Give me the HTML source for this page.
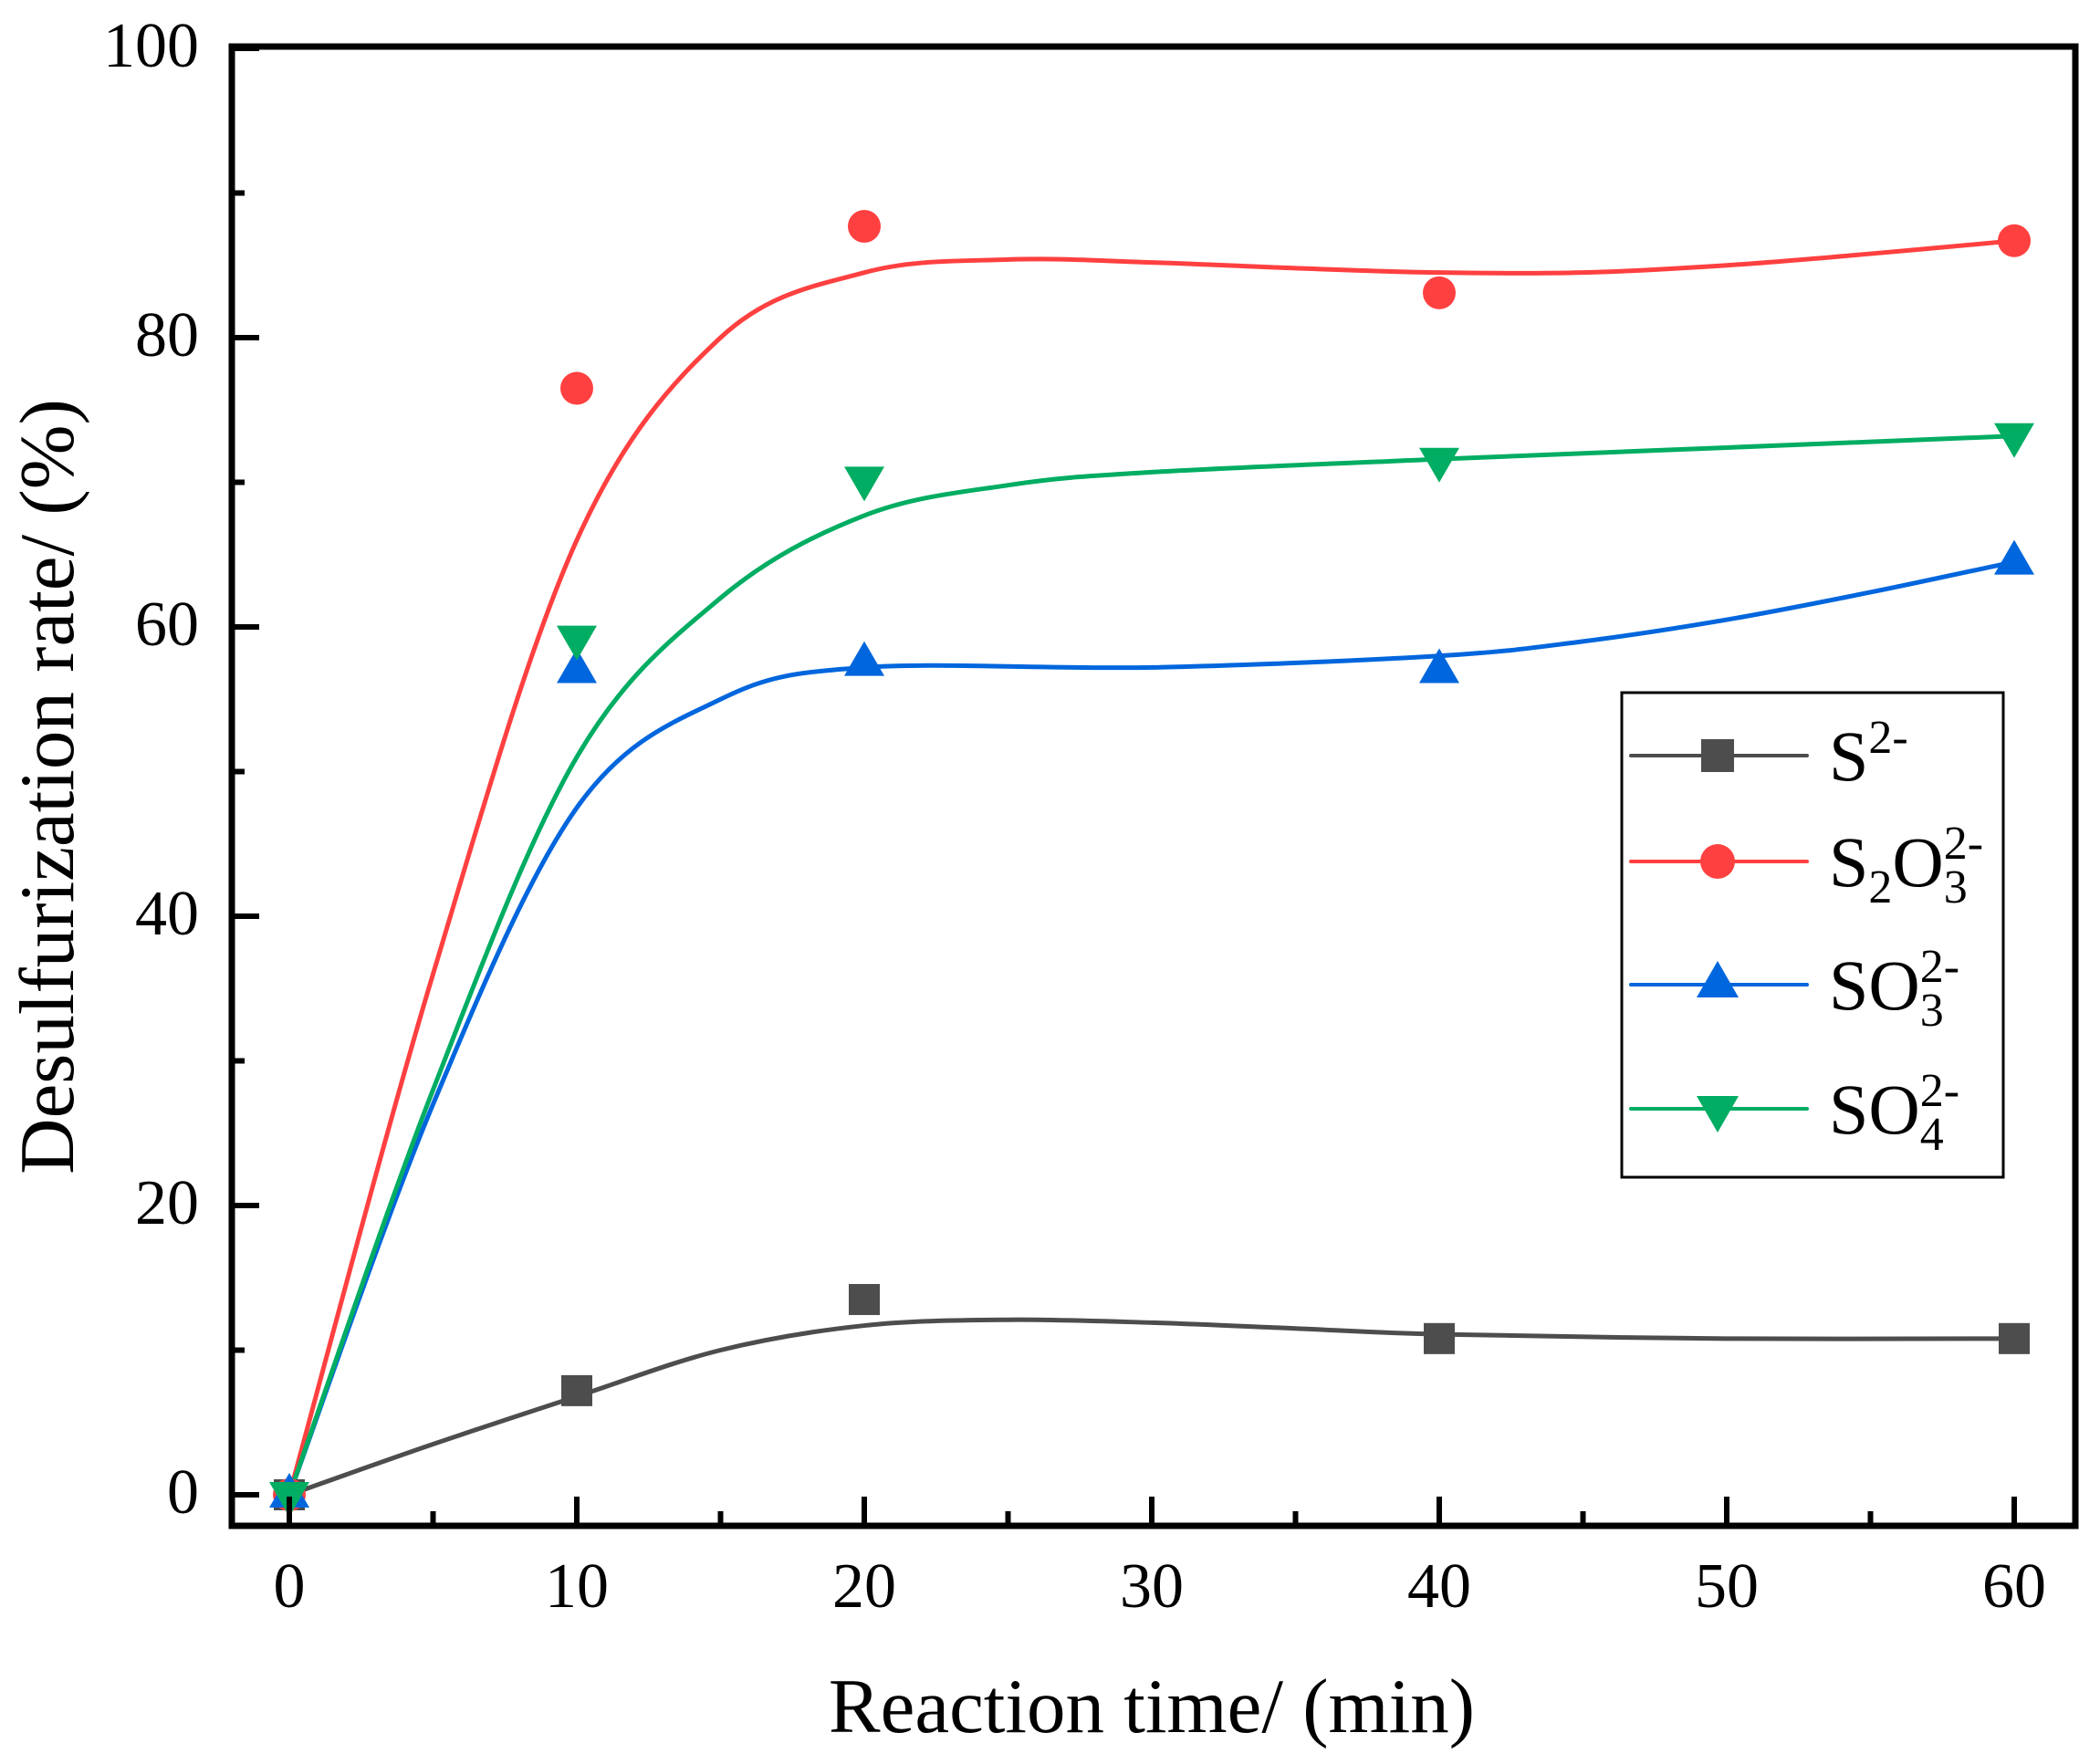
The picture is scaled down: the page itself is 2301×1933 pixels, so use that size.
<!DOCTYPE html>
<html><head><meta charset="utf-8"><style>
html,body{margin:0;padding:0;background:#fff;}
svg{display:block;}
text{font-family:"Liberation Serif","Times New Roman",serif;fill:#000;}
</style></head><body>
<svg id="s" width="2301" height="1933" viewBox="0 0 2301 1933" xmlns="http://www.w3.org/2000/svg">
<rect width="2301" height="1933" fill="#fff"/>
<g id="curves"></g>
<g id="marks"></g>
<rect x="254" y="51" width="2020" height="1621" fill="none" stroke="#000" stroke-width="7"/>
<g id="ticks" stroke="#000" stroke-width="6"></g>
<g font-size="70" text-anchor="end">
<text x="218" y="1658">0</text>
<text x="218" y="1341">20</text>
<text x="218" y="1024">40</text>
<text x="218" y="707">60</text>
<text x="218" y="390">80</text>
<text x="218" y="73">100</text>
</g>
<g font-size="70" text-anchor="middle">
<text x="317" y="1761">0</text>
<text x="632" y="1761">10</text>
<text x="947" y="1761">20</text>
<text x="1262" y="1761">30</text>
<text x="1577" y="1761">40</text>
<text x="1892" y="1761">50</text>
<text x="2207" y="1761">60</text>
</g>
<text x="1262" y="1898" font-size="85" text-anchor="middle">Reaction time/ (min)</text>
<text transform="translate(80,862) rotate(-90)" font-size="85" text-anchor="middle">Desulfurization rate/ (%)</text>
<rect x="1777" y="759" width="418" height="531" fill="none" stroke="#000" stroke-width="3"/>
<g stroke-width="4" stroke-linecap="round">
<line x1="1787" y1="828" x2="1980" y2="828" stroke="#4d4d4d"/>
<line x1="1787" y1="944" x2="1980" y2="944" stroke="#ff4040"/>
<line x1="1787" y1="1079" x2="1980" y2="1079" stroke="#0066dd"/>
<line x1="1787" y1="1215" x2="1980" y2="1215" stroke="#00ad62"/>
</g>
<rect x="1864" y="810" width="36" height="36" fill="#4d4d4d"/>
<circle cx="1882" cy="944" r="19" fill="#ff4040"/>
<polygon points="1882,1053 1905,1093 1859,1093" fill="#0066dd"/>
<polygon points="1859,1201 1905,1201 1882,1241" fill="#00ad62"/>
<g font-size="78">
<text x="2004" y="855">S<tspan font-size="52" dy="-30">2-</tspan></text>
<text x="2004" y="971">S<tspan font-size="52" dy="18">2</tspan><tspan dy="-18">O</tspan><tspan font-size="52" dy="18">3</tspan><tspan font-size="52" dx="-26" dy="-48">2-</tspan></text>
<text x="2004" y="1106">SO<tspan font-size="52" dy="18">3</tspan><tspan font-size="52" dx="-26" dy="-48">2-</tspan></text>
<text x="2004" y="1242">SO<tspan font-size="52" dy="18">4</tspan><tspan font-size="52" dx="-26" dy="-48">2-</tspan></text>
</g>
</svg>
<script>
var NS="http://www.w3.org/2000/svg";
function X(v){return 317+31.5*v;}
function Y(v){return 1638-15.85*v;}
function el(t,a,p){var e=document.createElementNS(NS,t);for(var k in a)e.setAttribute(k,a[k]);p.appendChild(e);return e;}
var tk=document.getElementById('ticks');
for(var i=0;i<=100;i+=10){var y=Y(i);el('line',{x1:254,y1:y,x2:254+(i%20==0?30:14),y2:y},tk);}
for(var i=0;i<=65;i+=5){var x=X(i);if(x>2270)continue;el('line',{x1:x,y1:1672,x2:x,y2:1672-(i%10==0?32:16)},tk);}
var curves=[
 ["#4d4d4d",[[0,0],[5,3.5],[10,6.8],[15,10],[20,11.7],[25,12.1],[30,11.9],[35,11.5],[40,11.1],[50,10.8],[60,10.8]]],
 ["#ff4040",[[0,0],[5,36],[10,66],[15,80],[20,84.5],[25,85.4],[30,85.2],[35,84.8],[40,84.5],[45,84.5],[50,85],[55,85.8],[60,86.7]]],
 ["#0066dd",[[0,0],[5,27],[10,47.5],[15,55],[20,57.2],[30,57.2],[40,58],[45,59],[50,60.5],[55,62.4],[60,64.5]]],
 ["#00ad62",[[0,0],[5,28],[10,51],[15,62],[20,67.7],[25,69.8],[30,70.7],[40,71.6],[50,72.4],[60,73.2]]]
];
var cg=document.getElementById('curves');
curves.forEach(function(c){var p=c[1].map(function(q){return [X(q[0]),Y(q[1])];});
 var d="M"+p[0][0]+","+p[0][1];
 for(var i=0;i<p.length-1;i++){var p0=p[i-1]||p[i],p1=p[i],p2=p[i+1],p3=p[i+2]||p2;
  d+=" C"+(p1[0]+(p2[0]-p0[0])/6)+","+(p1[1]+(p2[1]-p0[1])/6)+" "+(p2[0]-(p3[0]-p1[0])/6)+","+(p2[1]-(p3[1]-p1[1])/6)+" "+p2[0]+","+p2[1];}
 el('path',{d:d,fill:"none",stroke:c[0],"stroke-width":5},cg);});
var mg=document.getElementById('marks');
var xs=[0,10,20,40,60];
[0,7.2,13.5,10.8,10.8].forEach(function(v,i){el('rect',{x:X(xs[i])-17,y:Y(v)-17,width:34,height:34,fill:"#4d4d4d"},mg);});
[0,76.5,87.7,83.1,86.7].forEach(function(v,i){el('circle',{cx:X(xs[i]),cy:Y(v),r:18,fill:"#ff4040"},mg);});
[0,57,57.5,57,64.5].forEach(function(v,i){var x=X(xs[i]),y=Y(v);el('polygon',{points:x+","+(y-24)+" "+(x+22)+","+(y+14)+" "+(x-22)+","+(y+14),fill:"#0066dd"},mg);});
[0,59.2,70.2,71.5,73.2].forEach(function(v,i){var x=X(xs[i]),y=Y(v);el('polygon',{points:(x-22)+","+(y-14)+" "+(x+22)+","+(y-14)+" "+x+","+(y+24),fill:"#00ad62"},mg);});
</script>
</body></html>
